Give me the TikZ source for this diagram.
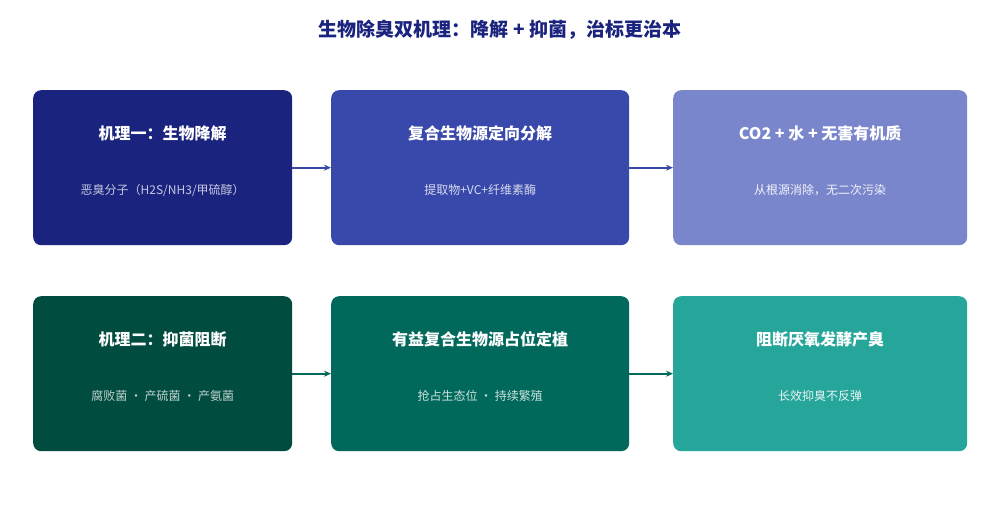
\documentclass[tikz,border=0pt]{standalone}
\usepackage{fontspec}
\setmainfont{Noto Sans CJK SC}
\usetikzlibrary{arrows.meta}
\definecolor{c1}{HTML}{1A237E}\definecolor{c2}{HTML}{3949AB}\definecolor{c3}{HTML}{7986CB}
\definecolor{d1}{HTML}{004D40}\definecolor{d2}{HTML}{00695C}\definecolor{d3}{HTML}{26A69A}
\begin{document}
\begin{tikzpicture}[x=1pt,y=-1pt,
 box/.style={rounded corners=8pt,inner sep=0pt,anchor=north west},
 ttl/.style={text=white,font=\fontsize{16}{18}\selectfont\bfseries},
 sub/.style={font=\fontsize{12}{14}\selectfont},
 arr/.style={-{Stealth[length=7pt,width=6pt]},line width=2pt}]
\useasboundingbox[fill=white] (0,0) rectangle (1000,516);
\node[text=c1,font=\fontsize{19}{22}\selectfont\bfseries] (title) at (500,30) {生物除臭双机理：降解 + 抑菌，治标更治本};
\def\bx#1#2#3#4#5#6#7#8{%
 \node[box,fill=#6,minimum width=#4,minimum height=155] (#1) at (#2,#3) {};
 \node[ttl] (#1t) at ([yshift=-43]#1.north) {#7};
 \node[sub,text=white!#5!#6] (#1s) at ([yshift=-100]#1.north) {#8};}
\bx{a}{33}{90}{259}{75}{c1}{机理一：生物降解}{恶臭分子（H2S/NH3/甲硫醇）}
\bx{b}{331}{90}{298}{80}{c2}{复合生物源定向分解}{提取物+VC+纤维素酶}
\bx{c}{673}{90}{294}{90}{c3}{CO2 + 水 + 无害有机质}{从根源消除，无二次污染}
\bx{d}{33}{296}{259}{75}{d1}{机理二：抑菌阻断}{腐败菌 · 产硫菌 · 产氨菌}
\bx{e}{331}{296}{298}{80}{d2}{有益复合生物源占位定植}{抢占生态位 · 持续繁殖}
\bx{f}{673}{296}{294}{90}{d3}{阻断厌氧发酵产臭}{长效抑臭不反弹}
\draw[arr,c2] (a.east) -- (b.west);
\draw[arr,c2] (b.east) -- (c.west);
\draw[arr,d2] (d.east) -- (e.west);
\draw[arr,d2] (e.east) -- (f.west);
\end{tikzpicture}
\end{document}
